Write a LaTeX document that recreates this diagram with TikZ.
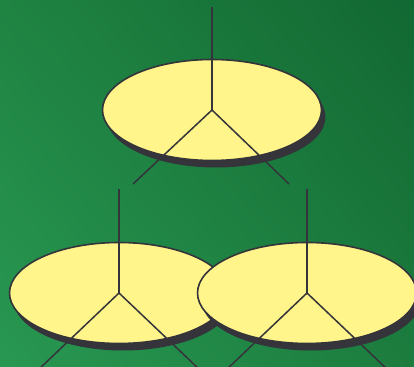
\documentclass[tikz,border=0pt]{standalone}
\usetikzlibrary{shapes.geometric,shadows,shadings}
\definecolor{disk}{RGB}{255,245,138}
\definecolor{rim}{RGB}{52,52,58}
\definecolor{gTL}{RGB}{31,131,66}
\definecolor{gTR}{RGB}{18,104,50}
\definecolor{gBL}{RGB}{40,152,82}
\definecolor{gBR}{RGB}{28,124,62}
\begin{document}
\begin{tikzpicture}[x=1pt,y=1pt,
  disc/.style={ellipse,draw=rim,line width=1.6pt,fill=disk,minimum width=219pt,minimum height=101pt,inner sep=0pt,
    drop shadow={shadow xshift=4pt,shadow yshift=-7pt,fill=rim,opacity=1}},
  spoke/.style={draw=rim,line width=1.5pt}]
  \useasboundingbox (0,0) rectangle (414,366);
  \clip (0,0) rectangle (414,366);
  \shade[upper left=gTL,upper right=gTR,lower left=gBL,lower right=gBR] (0,0) rectangle (414,366);
  % top disc
  \node[disc](top) at (212,256){};
  \coordinate(topu) at (212,359);
  \coordinate(topl) at (133,182); \coordinate(topr) at (289,182);
  \draw[spoke](topu)--(top.center); \draw[spoke](top.center)--(topl); \draw[spoke](top.center)--(topr);
  % lower left disc
  \node[disc](left) at (119,73){};
  \coordinate(leftu) at (119,177);
  \coordinate(leftl) at (37,-5); \coordinate(leftr) at (201,-5);
  \draw[spoke](leftu)--(left.center); \draw[spoke](left.center)--(leftl); \draw[spoke](left.center)--(leftr);
  % lower right disc
  \node[disc](right) at (307,73){};
  \coordinate(rightu) at (307,177);
  \coordinate(rightl) at (225,-5); \coordinate(rightr) at (389,-5);
  \draw[spoke](rightu)--(right.center); \draw[spoke](right.center)--(rightl); \draw[spoke](right.center)--(rightr);
\end{tikzpicture}
\end{document}
